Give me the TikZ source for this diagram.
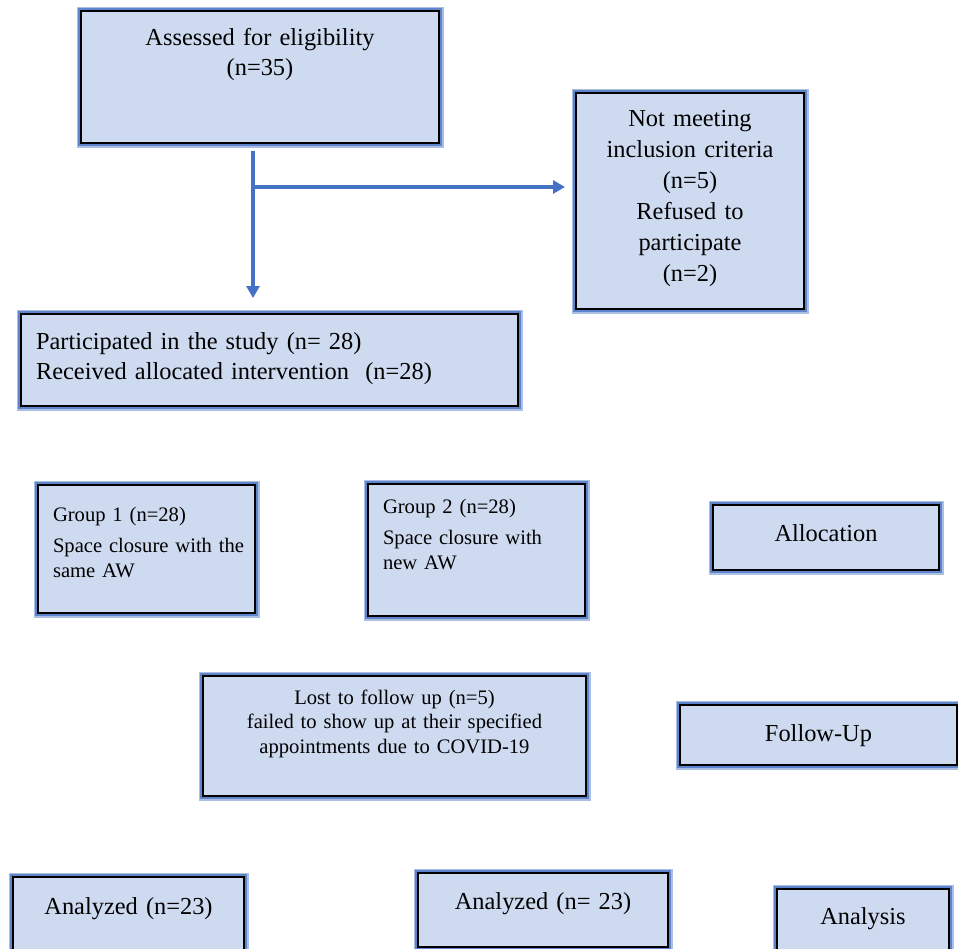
\documentclass[tikz,border=0pt]{standalone}
\usepackage{fontspec}
\setmainfont{Liberation Serif}[WordSpace=0.8]
\usetikzlibrary{arrows.meta}
\definecolor{boxfill}{RGB}{206,218,239}
\definecolor{glowblue}{RGB}{68,114,196}
\definecolor{arrowblue}{RGB}{68,114,196}

\begin{document}
\begin{tikzpicture}[
    x=0.5pt, y=-0.5pt,
    box/.style={rectangle, draw=black, fill=boxfill, line width=1pt,
        anchor=north west, inner xsep=7.5pt, inner ysep=0pt,
        preaction={draw=glowblue, line width=4.5pt, draw opacity=0.45},
        preaction={draw=glowblue, line width=3pt, draw opacity=0.75}},
    big/.style={font=\fontsize{12.2pt}{15pt}\selectfont},
    small/.style={font=\fontsize{10.3pt}{12.4pt}\selectfont},
    arr/.style={draw=arrowblue, line width=1.8pt, -{Triangle[length=6pt,width=6.5pt]}}
]
\useasboundingbox (0,0) rectangle (958,948);

% Screening
\node[box, big, align=center, text width=164pt, text height=17pt, text depth=49pt] (assess) at (80,10) {Assessed for eligibility\\(n=35)};

% Excluded
\node[box, align=center, text width=99pt, text height=16.5pt, text depth=91.5pt, font=\fontsize{12.2pt}{15.5pt}\selectfont] (notmeet) at (575,92) {Not meeting\\inclusion criteria\\(n=5)\\Refused to\\participate\\(n=2)};

% Enrollment
\node[box, big, align=left, text width=233.5pt, text height=17.5pt, text depth=28.5pt] (part) at (20,313) {Participated in the study (n= 28)\\Received allocated intervention\ \ (n=28)};

% Arrows from the top box
\draw[arr, shorten <=3.5pt, shorten >=7.5pt] ([xshift=-3.5pt]assess.south) -- ([xshift=-3.5pt]assess.south |- part.north);
\coordinate (branch) at (252,187);
\draw[arr, shorten >=5pt] (branch) -- (branch -| notmeet.west);

% Groups
\node[box, small, align=left, text width=93.5pt, text height=18pt, text depth=46pt] (grp1) at (37,484) {Group 1 (n=28)\\[3.3pt]\mbox{Space closure with the}\\same AW};
\node[box, small, align=left, text width=93.5pt, text height=14.5pt, text depth=51.5pt] (grp2) at (367,483) {Group 2 (n=28)\\[3.3pt]Space closure with\\new AW};

% Lost to follow up
\node[box, small, align=center, text width=176.5pt, text height=14pt, text depth=46pt] (lost) at (202,675) {Lost to follow up (n=5)\\failed to show up at their specified\\appointments due to COVID-19};

% Analyzed
\node[box, big, align=center, text width=100.5pt, text height=18.5pt, text depth=42.5pt] (ana1) at (12,876) {Analyzed (n=23)};
\node[box, big, align=center, text width=110pt, text height=18pt, text depth=19pt] (ana2) at (417,872) {Analyzed (n= 23)};

% Stage labels
\node[box, big, align=center, text width=98pt, text height=18pt, text depth=14.5pt] (alloc) at (712,504) {Allocation};
\node[box, big, align=center, text width=123.5pt, text height=18pt, text depth=12pt] (follow) at (679,704) {Follow-Up};
\node[box, big, align=center, text width=71pt, text height=17.5pt, text depth=40pt] (analysis) at (776,888) {Analysis};
\end{tikzpicture}
\end{document}
